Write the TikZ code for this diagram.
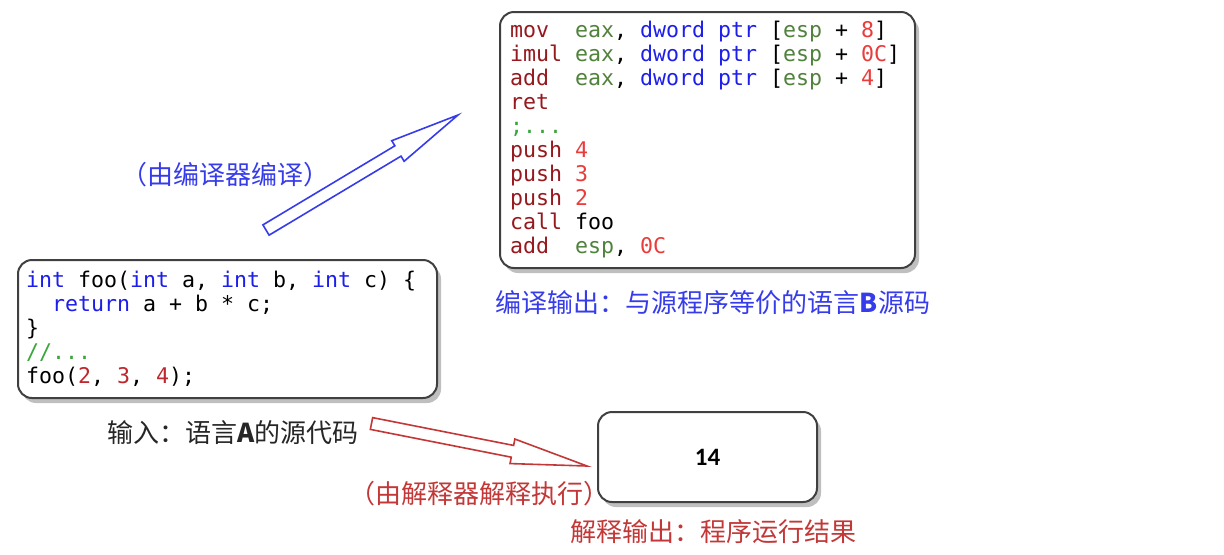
\documentclass[tikz,border=0pt]{standalone}
\usepackage{fontspec}
\setmonofont{DejaVu Sans Mono}
\newfontfamily\cjk{Noto Sans CJK SC}
\newfontfamily\resfont{Carlito}
\usetikzlibrary{calc, shadows}

\definecolor{cmpblue}{RGB}{55,60,235}
\definecolor{itpred}{RGB}{195,55,55}
\definecolor{opred}{RGB}{150,25,30}
\definecolor{reggreen}{RGB}{80,130,60}
\definecolor{kwblue}{RGB}{30,30,235}
\definecolor{numred}{RGB}{235,60,60}
\definecolor{cnumred}{RGB}{190,40,45}
\definecolor{cmtgreen}{RGB}{60,165,60}

\newcommand{\codefont}{\ttfamily\fontsize{10.8}{12}\selectfont}
% fixed-width spaces in the code boxes (align=left narrows them)
\newcommand{\codesp}{\spaceskip 0.602em\xspaceskip 0.602em\relax}
\newcommand{\ckw}[1]{\textcolor{kwblue}{#1}}
\newcommand{\cnum}[1]{\textcolor{cnumred}{#1}}
\newcommand{\ccmt}[1]{\textcolor{cmtgreen}{#1}}
\newcommand{\asmop}[1]{\textcolor{opred}{#1}}
\newcommand{\asmreg}[1]{\textcolor{reggreen}{#1}}
\newcommand{\asmkw}[1]{\textcolor{kwblue}{#1}}
\newcommand{\asmnum}[1]{\textcolor{numred}{#1}}

\tikzset{
    my-box/.style={
        rectangle, rounded corners=7pt, draw=black!75, line width=1pt, fill=white,
        drop shadow={shadow xshift=2pt, shadow yshift=-2.5pt, opacity=.5}
    },
    my-code-box/.style={
        my-box, align=left, inner xsep=5pt, inner ysep=3pt, font=\codefont
    },
    my-res-box/.style={
        my-box, align=center, font=\resfont\bfseries\fontsize{12.5}{14}\selectfont
    },
    my-label/.style={
        font=\cjk\fontsize{13}{15}\selectfont
    },
    my-arrow/.style={
        line width=.8pt, fill=white, line join=miter
    },
}

\begin{document}
\begin{tikzpicture}[x=0.5pt, y=-0.5pt]

        \useasboundingbox (0,0) rectangle (1224,554);

        % SOURCE CODE (LANGUAGE A)
        \node[my-code-box, inner xsep=4pt, text width=201.5pt, minimum height=69pt] (SRC) at (227.5,329) {\codesp
            \ckw{int} foo(\ckw{int} a, \ckw{int} b, \ckw{int} c) \{\\
            ~~\ckw{return} a + b * c;\\
            \}\\
            \ccmt{//...}\\
            foo(\cnum{2}, \cnum{3}, \cnum{4});};

        % COMPILED CODE (LANGUAGE B)
        \node[my-code-box, text width=197.5pt, minimum height=128pt] (ASM) at (707.5,140) {\codesp
            \asmop{mov}~~\asmreg{eax}, \asmkw{dword ptr} [\asmreg{esp} + \asmnum{8}]\\
            \asmop{imul} \asmreg{eax}, \asmkw{dword ptr} [\asmreg{esp} + \asmnum{0C}]\\
            \asmop{add}~~\asmreg{eax}, \asmkw{dword ptr} [\asmreg{esp} + \asmnum{4}]\\
            \asmop{ret}\\
            \ccmt{;...}\\
            \asmop{push} \asmnum{4}\\
            \asmop{push} \asmnum{3}\\
            \asmop{push} \asmnum{2}\\
            \asmop{call} foo\\
            \asmop{add}~~\asmreg{esp}, \asmnum{0C}};

        % INTERPRETED RESULT
        \node[my-res-box, minimum width=109.5pt, minimum height=45pt] (RES) at (707.5,457) {14};

        % LABELS
        \node[my-label, text=black!85]  (SRCLBL) at ($(SRC.south) + (5.5, 34)$) {输入：语言\textbf{A}的源代码};
        \node[my-label, text=cmpblue]   (ASMLBL) at ($(ASM.south) + (5.5, 34)$) {编译输出：与源程序等价的语言\textbf{B}源码};
        \node[my-label, text=itpred]    (RESLBL) at ($(RES.south) + (5.5, 29)$) {解释输出：程序运行结果};
        \node[my-label, text=cmpblue]   (CMPLBL) at (225,175) {（由编译器编译）};
        \node[my-label, text=itpred]    (ITPLBL) at (479,494) {（由解释器解释执行）};

        % COMPILE ARROW
        \coordinate (CMPTAIL) at (266,230);
        \coordinate (CMPTIP)  at (458,115);
        \coordinate (CMPBASE) at ($(CMPTIP)!35pt!(CMPTAIL)$);
        \draw[my-arrow, draw=cmpblue]
            ($(CMPTAIL)!3pt!90:(CMPTIP)$) -- ($(CMPBASE)!3pt!-90:(CMPTAIL)$)
            -- ($(CMPBASE)!6pt!-90:(CMPTAIL)$) -- (CMPTIP)
            -- ($(CMPBASE)!6pt!90:(CMPTAIL)$) -- ($(CMPBASE)!3pt!90:(CMPTAIL)$)
            -- ($(CMPTAIL)!3pt!-90:(CMPTIP)$) -- cycle;

        % INTERPRET ARROW
        \coordinate (ITPTAIL) at (371.5,423.5);
        \coordinate (ITPTIP)  at (587,466);
        \coordinate (ITPBASE) at ($(ITPTIP)!38pt!(ITPTAIL)$);
        \draw[my-arrow, draw=itpred]
            ($(ITPTAIL)!3pt!90:(ITPTIP)$) -- ($(ITPBASE)!3pt!-90:(ITPTAIL)$)
            -- ($(ITPBASE)!6.25pt!-90:(ITPTAIL)$) -- (ITPTIP)
            -- ($(ITPBASE)!6.25pt!90:(ITPTAIL)$) -- ($(ITPBASE)!3pt!90:(ITPTAIL)$)
            -- ($(ITPTAIL)!3pt!-90:(ITPTIP)$) -- cycle;

    \end{tikzpicture}
\end{document}
